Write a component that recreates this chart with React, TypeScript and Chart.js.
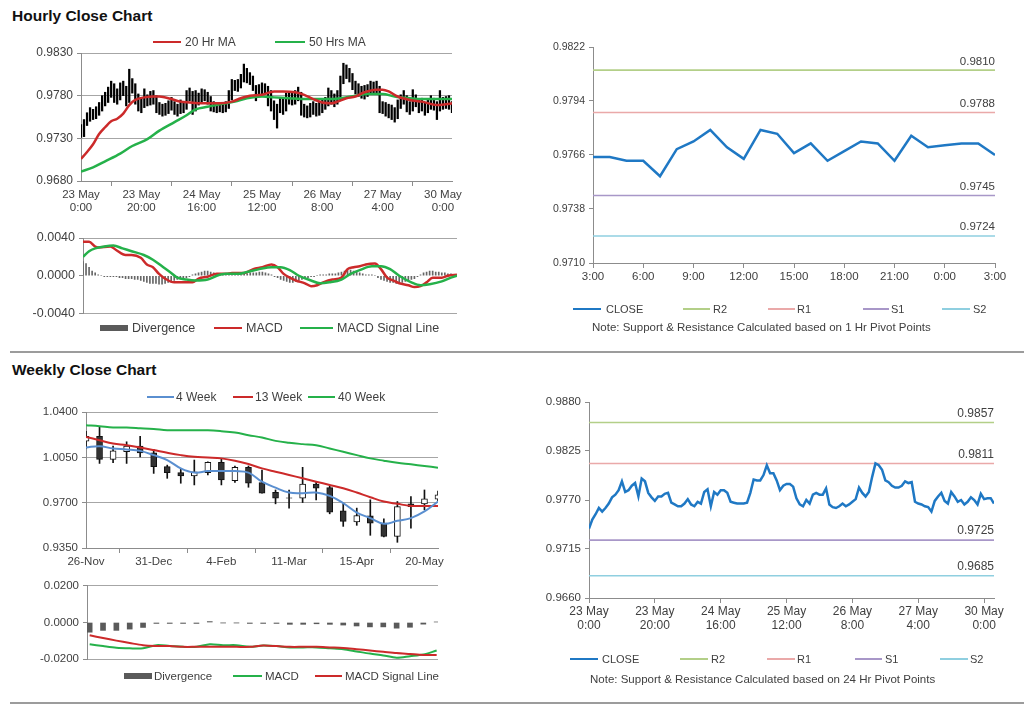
import React, { useEffect, useRef } from "react";
import { Chart, registerables } from "chart.js";

Chart.register(...registerables);

const FONT = "'Liberation Sans', Arial, Helvetica, sans-serif";
const TEXT = "#404040";
const AXIS = "#8c8c8c";
const GRID = "#a6a6a6";

// ---------------- Hourly data (trading hours, 23 May 0:00 -> 30 May) ----------------
const hourlyTickLabels = [
  ["23 May", "0:00"], ["23 May", "20:00"], ["24 May", "16:00"], ["25 May", "12:00"],
  ["26 May", "8:00"], ["27 May", "4:00"], ["30 May", "0:00"],
];
const HOURS_PER_TICK = 20;

const hourlyClose = [
  0.9738, 0.9748, 0.9754, 0.9761, 0.9757, 0.9761, 0.9766, 0.9773, 0.9776, 0.9781,
  0.9791, 0.9779, 0.9781, 0.9786, 0.9789, 0.9774, 0.9794, 0.9791, 0.9778, 0.9773,
  0.9769, 0.9774, 0.9774, 0.9777, 0.9778, 0.9767, 0.9765, 0.9763, 0.9763, 0.9766,
  0.9771, 0.9765, 0.9763, 0.9768, 0.9766, 0.9779, 0.9782, 0.9763, 0.9779, 0.9776,
  0.9781, 0.9781, 0.9778, 0.9768, 0.9767, 0.9766, 0.9766, 0.9766, 0.9767, 0.9778,
  0.9793, 0.9792, 0.9792, 0.9798, 0.9809, 0.9800, 0.9800, 0.9792, 0.9781, 0.9786,
  0.9788, 0.9788, 0.9785, 0.9772, 0.9765, 0.9763, 0.9770, 0.9766, 0.9776, 0.9778,
  0.9776, 0.9776, 0.9783, 0.9765, 0.9762, 0.9761, 0.9763, 0.9766, 0.9763, 0.9765,
  0.9768, 0.9771, 0.9784, 0.9778, 0.9774, 0.9779, 0.9796, 0.9811, 0.9809, 0.9804,
  0.9792, 0.9790, 0.9786, 0.9784, 0.9784, 0.9786, 0.9791, 0.9789, 0.9790, 0.9768,
  0.9766, 0.9765, 0.9763, 0.9762, 0.9757, 0.9769, 0.9774, 0.9778, 0.9769, 0.9766,
  0.9779, 0.9774, 0.9768, 0.9770, 0.9765, 0.9768, 0.9773, 0.9770, 0.9765, 0.9777,
  0.9771, 0.9772, 0.9772, 0.9766,
];
const hourlyHigh = [
  0.9746, 0.9752, 0.9760, 0.9766, 0.9764, 0.9767, 0.9772, 0.9780, 0.9784, 0.9790,
  0.9797, 0.9794, 0.9788, 0.9795, 0.9797, 0.9791, 0.9811, 0.9800, 0.9794, 0.9782,
  0.9778, 0.9788, 0.9781, 0.9785, 0.9786, 0.9780, 0.9772, 0.9770, 0.9771, 0.9774,
  0.9778, 0.9773, 0.9770, 0.9775, 0.9773, 0.9786, 0.9789, 0.9785, 0.9786, 0.9783,
  0.9788, 0.9787, 0.9784, 0.9779, 0.9773, 0.9772, 0.9771, 0.9772, 0.9773, 0.9786,
  0.9799, 0.9798, 0.9799, 0.9805, 0.9817, 0.9812, 0.9807, 0.9803, 0.9792, 0.9793,
  0.9795, 0.9794, 0.9791, 0.9786, 0.9774, 0.9770, 0.9778, 0.9776, 0.9783, 0.9785,
  0.9783, 0.9786, 0.9790, 0.9784, 0.9770, 0.9768, 0.9771, 0.9773, 0.9771, 0.9773,
  0.9775, 0.9778, 0.9789, 0.9786, 0.9782, 0.9786, 0.9803, 0.9818, 0.9816, 0.9812,
  0.9806, 0.9797, 0.9794, 0.9791, 0.9792, 0.9793, 0.9797, 0.9796, 0.9797, 0.9791,
  0.9773, 0.9772, 0.9770, 0.9769, 0.9766, 0.9775, 0.9781, 0.9786, 0.9780, 0.9773,
  0.9787, 0.9781, 0.9776, 0.9777, 0.9772, 0.9775, 0.9780, 0.9777, 0.9773, 0.9786,
  0.9778, 0.9779, 0.9780, 0.9773,
];
const hourlyLow = [
  0.9731, 0.9732, 0.9745, 0.9750, 0.9752, 0.9753, 0.9757, 0.9762, 0.9768, 0.9772,
  0.9778, 0.9772, 0.9770, 0.9775, 0.9780, 0.9768, 0.9772, 0.9783, 0.9770, 0.9762,
  0.9760, 0.9766, 0.9768, 0.9769, 0.9770, 0.9760, 0.9758, 0.9756, 0.9757, 0.9759,
  0.9763, 0.9758, 0.9756, 0.9759, 0.9760, 0.9764, 0.9774, 0.9758, 0.9762, 0.9769,
  0.9772, 0.9774, 0.9770, 0.9762, 0.9761, 0.9760, 0.9761, 0.9760, 0.9761, 0.9765,
  0.9775, 0.9786, 0.9785, 0.9789, 0.9796, 0.9795, 0.9793, 0.9786, 0.9774, 0.9779,
  0.9781, 0.9782, 0.9768, 0.9762, 0.9752, 0.9742, 0.9760, 0.9758, 0.9762, 0.9770,
  0.9769, 0.9770, 0.9774, 0.9757, 0.9755, 0.9754, 0.9755, 0.9758, 0.9756, 0.9757,
  0.9760, 0.9764, 0.9768, 0.9770, 0.9767, 0.9770, 0.9775, 0.9794, 0.9800, 0.9796,
  0.9787, 0.9782, 0.9779, 0.9777, 0.9776, 0.9779, 0.9782, 0.9783, 0.9782, 0.9760,
  0.9759, 0.9756, 0.9754, 0.9752, 0.9749, 0.9753, 0.9765, 0.9770, 0.9761, 0.9758,
  0.9762, 0.9767, 0.9760, 0.9762, 0.9757, 0.9760, 0.9764, 0.9763, 0.9752, 0.9762,
  0.9764, 0.9765, 0.9764, 0.9760,
];
const ma20Hours = [0, 2, 4, 6, 8, 10, 12, 14, 16, 18, 21, 24, 26, 30, 33, 36, 40, 43, 46, 50, 53, 56, 60, 64, 67, 71, 74, 77, 80, 83, 85, 88, 91, 94, 98, 100, 102, 105, 109, 113, 118, 121, 123];
const ma20Values = [
  0.9706, 0.9714, 0.9723, 0.9735, 0.9743, 0.9750, 0.9753, 0.9759, 0.9769, 0.9775,
  0.9778, 0.9779, 0.9779, 0.9776, 0.9773, 0.9772, 0.9771, 0.9771, 0.9771, 0.9773,
  0.9777, 0.9780, 0.9781, 0.9785, 0.9785, 0.9784, 0.9781, 0.9776, 0.9772, 0.9771,
  0.9773, 0.9777, 0.9779, 0.9784, 0.9787, 0.9787, 0.9785, 0.9779, 0.9775, 0.9773,
  0.9769, 0.9770, 0.9771,
];
const ma50Hours = [0, 4, 8, 13, 17, 22, 26, 31, 35, 38, 42, 46, 51, 55, 60, 64, 69, 73, 77, 82, 86, 91, 95, 100, 104, 109, 113, 118, 123];
const ma50Values = [
  0.9691, 0.9696, 0.9703, 0.9712, 0.9721, 0.9729, 0.9739, 0.9749, 0.9757, 0.9764,
  0.9767, 0.9770, 0.9773, 0.9777, 0.9779, 0.9778, 0.9777, 0.9776, 0.9776, 0.9776,
  0.9777, 0.9780, 0.9782, 0.9782, 0.9779, 0.9777, 0.9776, 0.9776, 0.9776,
];
const hourlyPriceTicks = [0.968, 0.973, 0.978, 0.983];

const macdHours = [0, 2, 4, 5, 9, 11, 14, 16, 19, 21, 23, 25, 27, 30, 32, 34, 36, 38, 41, 44, 47, 49, 53, 56, 59, 62, 64, 66, 68, 70, 73, 75, 77, 79, 82, 85, 87, 89, 91, 93, 96, 98, 100, 102, 104, 107, 109, 111, 113, 115, 118, 120, 123];
const macdValues = [
  0.0036, 0.0036, 0.0031, 0.0030, 0.0031, 0.0027, 0.0022, 0.0022, 0.0019, 0.0012,
  0.0009, 0.0002, -0.0003, -0.0007, -0.0007, -0.0007, -0.0007, -0.0003, -0.0001, 0.0002,
  0.0002, 0.0003, 0.0003, 0.0007, 0.0009, 0.0012, 0.0009, 0.0002, -0.0002, -0.0005,
  -0.0008, -0.0011, -0.0010, -0.0007, -0.0004, -0.0002, 0.0007, 0.0009, 0.0010, 0.0012,
  0.0013, 0.0007, -0.0002, -0.0005, -0.0008, -0.0010, -0.0012, -0.0011, -0.0007, -0.0002,
  -0.0002, 0.0000, 0.0001,
];
const signalHours = [0, 2, 4, 7, 10, 13, 16, 20, 23, 26, 29, 31, 34, 37, 41, 44, 47, 51, 54, 58, 62, 65, 68, 71, 75, 78, 81, 85, 88, 91, 95, 98, 101, 104, 108, 111, 114, 118, 121, 123];
const signalValues = [
  0.0020, 0.0026, 0.0029, 0.0031, 0.0032, 0.0029, 0.0026, 0.0022, 0.0017, 0.0010,
  0.0003, -0.0002, -0.0004, -0.0005, -0.0004, 0.0000, 0.0002, 0.0002, 0.0004, 0.0007,
  0.0009, 0.0009, 0.0006, 0.0000, -0.0005, -0.0008, -0.0007, -0.0004, 0.0002, 0.0006,
  0.0010, 0.0010, 0.0007, 0.0000, -0.0007, -0.0010, -0.0009, -0.0006, -0.0002, 0.0000,
];
const hourlyDivergence = [
  0.0015, 0.0013, 0.0009, 0.0005, 0.0003, 0.0001, 0.0000, -0.0001, -0.0001, -0.0001,
  -0.0001, -0.0001, -0.0002, -0.0002, -0.0003, -0.0003, -0.0003, -0.0004, -0.0004, -0.0005,
  -0.0006, -0.0007, -0.0008, -0.0008, -0.0008, -0.0009, -0.0009, -0.0008, -0.0007, -0.0006,
  -0.0005, -0.0004, -0.0003, -0.0003, -0.0002, -0.0001, 0.0001, 0.0002, 0.0003, 0.0004,
  0.0005, 0.0005, 0.0004, 0.0003, 0.0002, 0.0001, 0.0001, 0.0001, 0.0001, 0.0001,
  0.0001, 0.0001, 0.0001, 0.0002, 0.0002, 0.0003, 0.0003, 0.0003, 0.0004, 0.0004,
  0.0003, 0.0002, 0.0001, -0.0001, -0.0002, -0.0004, -0.0005, -0.0006, -0.0007, -0.0007,
  -0.0006, -0.0005, -0.0004, -0.0003, -0.0002, -0.0001, -0.0001, 0.0000, 0.0001, 0.0001,
  0.0001, 0.0002, 0.0002, 0.0002, 0.0003, 0.0004, 0.0005, 0.0006, 0.0006, 0.0005,
  0.0004, 0.0003, 0.0002, 0.0001, 0.0001, 0.0001, 0.0000, -0.0002, -0.0004, -0.0005,
  -0.0006, -0.0007, -0.0007, -0.0008, -0.0008, -0.0007, -0.0006, -0.0005, -0.0004, -0.0003,
  -0.0001, 0.0001, 0.0003, 0.0004, 0.0005, 0.0005, 0.0004, 0.0004, 0.0003, 0.0003,
  0.0002, 0.0002, 0.0001, 0.0001,
];
const hourlyMacdTicks = [-0.004, 0, 0.004];

// ---------------- 1 Hr pivot chart ----------------
const pivot1TickLabels = ["3:00", "6:00", "9:00", "12:00", "15:00", "18:00", "21:00", "0:00", "3:00"];
const HOURS_PER_PIVOT_TICK = 3;
const pivot1Close = [
  0.9765, 0.9765, 0.9763, 0.9763, 0.9755, 0.9769, 0.9773, 0.9779, 0.9770, 0.9764,
  0.9779, 0.9777, 0.9767, 0.9772, 0.9763, 0.9768, 0.9773, 0.9772, 0.9763, 0.9776,
  0.9770, 0.9771, 0.9772, 0.9772, 0.9766,
];
const pivot1Levels = [0.9810, 0.9788, 0.9745, 0.9724]; // R2, R1, S1, S2
const pivot1Ticks = [0.9710, 0.9738, 0.9766, 0.9794, 0.9822];

// ---------------- 24 Hr pivot chart ----------------
const pivot24Levels = [0.9857, 0.9811, 0.9725, 0.9685]; // R2, R1, S1, S2
const pivot24Ticks = [0.9660, 0.9715, 0.9770, 0.9825, 0.9880];

// ---------------- Weekly data ----------------
const weeklyTickLabels = ["26-Nov", "31-Dec", "4-Feb", "11-Mar", "15-Apr", "20-May"];
const WEEKS_PER_TICK = 5;
const weeklyOpen = [1.0175, 1.0213, 1.0034, 1.0093, 1.0136, 1.0085, 0.9978, 0.9932, 0.9906, 0.9932, 1.0011, 0.9870, 0.9973, 0.9855, 0.9780, 0.9737, 0.9734, 0.9844, 0.9816, 0.9637, 0.9552, 0.9599, 0.9542, 0.9440, 0.9691, 0.9691, 0.9727];
const weeklyClose = [1.0213, 1.0034, 1.0100, 1.0136, 1.0085, 0.9978, 0.9932, 0.9906, 0.9939, 1.0011, 0.9875, 0.9973, 0.9850, 0.9773, 0.9734, 0.9734, 0.9844, 0.9811, 0.9627, 0.9555, 0.9601, 0.9542, 0.9440, 0.9670, 0.9670, 0.9729, 0.9760];
const weeklyHigh = [1.0250, 1.0285, 1.0136, 1.0170, 1.0213, 1.0111, 0.9990, 0.9965, 1.0029, 1.0016, 1.0042, 0.9983, 0.9983, 0.9952, 0.9798, 0.9798, 0.9973, 0.9862, 0.9829, 0.9696, 0.9658, 0.9722, 0.9576, 0.9709, 0.9747, 0.9798, 0.9790];
const weeklyLow = [1.0120, 1.0003, 1.0008, 1.0003, 1.0054, 0.9926, 0.9888, 0.9850, 0.9837, 0.9914, 0.9837, 0.9857, 0.9819, 0.9773, 0.9691, 0.9658, 0.9701, 0.9722, 0.9614, 0.9517, 0.9525, 0.9448, 0.9435, 0.9394, 0.9504, 0.9645, 0.9715];
const week4MA = [1.0126, 1.0136, 1.0118, 1.0111, 1.0100, 1.0067, 1.0029, 0.9965, 0.9932, 0.9944, 0.9944, 0.9944, 0.9932, 0.9862, 0.9816, 0.9778, 0.9773, 0.9778, 0.9752, 0.9696, 0.9624, 0.9581, 0.9537, 0.9560, 0.9581, 0.9632, 0.9709];
const week13MA = [1.0208, 1.0182, 1.0157, 1.0144, 1.0126, 1.0106, 1.0085, 1.0067, 1.0054, 1.0049, 1.0042, 1.0024, 0.9998, 0.9965, 0.9939, 0.9914, 0.9888, 0.9862, 0.9837, 0.9811, 0.9778, 0.9742, 0.9709, 0.9691, 0.9675, 0.9675, 0.9675];
const week40MA = [1.0298, 1.0290, 1.0280, 1.0280, 1.0275, 1.0269, 1.0259, 1.0259, 1.0259, 1.0259, 1.0252, 1.0241, 1.0221, 1.0203, 1.0177, 1.0162, 1.0152, 1.0144, 1.0118, 1.0093, 1.0067, 1.0042, 1.0024, 1.0008, 0.9996, 0.9983, 0.9970];
const weeklyPriceTicks = [0.935, 0.970, 1.005, 1.040];

const weeklyMacd = [-0.0119, -0.0129, -0.0138, -0.0141, -0.0141, -0.0124, -0.0128, -0.0133, -0.0133, -0.0119, -0.0124, -0.0124, -0.0133, -0.0126, -0.0129, -0.0136, -0.0136, -0.0136, -0.0141, -0.0146, -0.0158, -0.0170, -0.0180, -0.0192, -0.0184, -0.0175, -0.0153];
const weeklySignal = [-0.0070, -0.0085, -0.0099, -0.0112, -0.0124, -0.0128, -0.0129, -0.0133, -0.0133, -0.0133, -0.0133, -0.0133, -0.0133, -0.0126, -0.0129, -0.0133, -0.0133, -0.0133, -0.0136, -0.0139, -0.0146, -0.0153, -0.0160, -0.0167, -0.0172, -0.0177, -0.0177];
const weeklyDivergence = [-0.0053, -0.0043, -0.0043, -0.0036, -0.0027, -0.0005, -0.0005, -0.0005, -0.0005, 0.0005, -0.0002, -0.0002, -0.0005, -0.0005, -0.0005, -0.0010, -0.0010, -0.0007, -0.0010, -0.0014, -0.0019, -0.0024, -0.0024, -0.0031, -0.0026, -0.0009, 0.0003];
const weeklyMacdTicks = [-0.02, 0, 0.02];

// ---------------- colours ----------------
const RED = "#cc2a2a";
const GREEN = "#25b14a";
const BLUE = "#1f78c4";
const STEEL = "#5a8fd0";
const PIV_COLORS = ["#b3cf88", "#eaa9a9", "#a897c8", "#8fcfe0"];
const DIV_COLOR = "#5a5a5a";

// ---------------- helpers ----------------
type Box = { x: number; y: number; w: number; h: number };

function yScale(tickValues: number[], width: number, size: number, onArea: boolean, hideZero = false) {
  return {
    type: "linear",
    position: "left",
    min: tickValues[0],
    max: tickValues[tickValues.length - 1],
    afterBuildTicks: (s: any) => {
      s.ticks = tickValues.map((v) => ({ value: v }));
    },
    afterFit: (s: any) => {
      s.width = width;
    },
    ticks: {
      callback: (v: any) => Number(v).toFixed(4),
      font: { family: FONT, size },
      color: TEXT,
      padding: 4,
    },
    grid: {
      drawOnChartArea: onArea,
      color: (c: any) => (hideZero && c.tick && Math.abs(c.tick.value) < 1e-9 ? "rgba(0,0,0,0)" : GRID),
      tickColor: AXIS,
      tickLength: 4,
      lineWidth: 1,
    },
    border: { display: true, color: AXIS, width: 1 },
  };
}

function xScale(min: number, max: number, tickValues: number[], labels: any[], height: number, size: number) {
  return {
    type: "linear",
    position: "bottom",
    min,
    max,
    offset: false,
    afterBuildTicks: (s: any) => {
      s.ticks = tickValues.map((v) => ({ value: v }));
    },
    afterFit: (s: any) => {
      s.height = height;
    },
    ticks: {
      autoSkip: false,
      maxRotation: 0,
      minRotation: 0,
      callback: (_v: any, i: number) => labels[i],
      font: { family: FONT, size, lineHeight: 1.15 },
      color: TEXT,
      padding: 2,
    },
    grid: { drawOnChartArea: false, color: AXIS, tickColor: AXIS, tickLength: 5 },
    border: { display: true, color: AXIS },
  };
}

function hiddenX(min: number, max: number) {
  return { type: "linear", min, max, display: false, offset: false };
}

function base(pad: any, scales: any) {
  return {
    responsive: false,
    animation: false,
    devicePixelRatio: 1,
    events: [],
    layout: { padding: { left: 0, top: 0, right: 0, bottom: 0, ...pad } },
    plugins: { legend: { display: false }, tooltip: { enabled: false } },
    scales,
  };
}

function lineDs(data: any[], color: string, width: number, extra: any = {}) {
  return {
    type: "line",
    data,
    borderColor: color,
    backgroundColor: color,
    borderWidth: width,
    pointRadius: 0,
    fill: false,
    ...extra,
  };
}

function pivotLabelPlugin(levels: number[], size: number) {
  return {
    id: "pivotLabels",
    afterDatasetsDraw(chart: any) {
      const { ctx, chartArea, scales } = chart;
      ctx.save();
      ctx.font = `${size}px ${FONT}`;
      ctx.fillStyle = TEXT;
      ctx.textAlign = "right";
      ctx.textBaseline = "bottom";
      levels.forEach((l) => ctx.fillText(l.toFixed(4), chartArea.right, scales.y.getPixelForValue(l) - 3));
      ctx.restore();
    },
  };
}

function ChartCanvas({ box, make }: { box: Box; make: () => any }) {
  const ref = useRef<HTMLCanvasElement | null>(null);
  useEffect(() => {
    if (!ref.current) return;
    const chart = new Chart(ref.current, make());
    return () => chart.destroy();
  }, []);
  return (
    <canvas
      ref={ref}
      width={box.w}
      height={box.h}
      style={{ position: "absolute", left: box.x, top: box.y, width: box.w, height: box.h }}
    />
  );
}

// ---------------- chart configs ----------------
const hourlyTickValues = hourlyTickLabels.map((_, i) => i * HOURS_PER_TICK);
const lastHour = hourlyClose.length - 1;

function makeHourlyPrice() {
  return {
    type: "line",
    data: {
      datasets: [
        lineDs(ma20Hours.map((h, i) => ({ x: h, y: ma20Values[i] })), RED, 2.5, { cubicInterpolationMode: "monotone", order: 0 }),
        lineDs(ma50Hours.map((h, i) => ({ x: h, y: ma50Values[i] })), GREEN, 2.5, { cubicInterpolationMode: "monotone", order: 1 }),
        {
          type: "bar",
          data: hourlyHigh.map((h, i) => ({ x: i, y: [hourlyLow[i], h] })),
          backgroundColor: "#000",
          barThickness: 1.6,
          grouped: false,
          order: 2,
        },
      ],
    },
    options: base(
      { top: 23, right: 18 },
      {
        x: xScale(0, lastHour, hourlyTickValues, hourlyTickLabels, 34, 11.5),
        y: yScale(hourlyPriceTicks, 81, 12, true),
      }
    ),
  };
}

function makeHourlyMacd() {
  return {
    type: "line",
    data: {
      datasets: [
        lineDs(macdHours.map((h, i) => ({ x: h, y: macdValues[i] })), RED, 2.5, { cubicInterpolationMode: "monotone", order: 1 }),
        lineDs(signalHours.map((h, i) => ({ x: h, y: signalValues[i] })), GREEN, 2.5, { cubicInterpolationMode: "monotone", order: 0 }),
        {
          type: "bar",
          data: hourlyDivergence.map((v, i) => ({ x: i, y: v })),
          backgroundColor: "#666",
          barThickness: 1,
          grouped: false,
          order: 2,
        },
      ],
    },
    options: base(
      { top: 13, right: 13, bottom: 8 },
      {
        x: hiddenX(0, lastHour),
        y: yScale(hourlyMacdTicks, 83, 12.5, true, true),
      }
    ),
  };
}

function pivotDatasets(close: number[], levels: number[]) {
  const last = close.length - 1;
  return [
    lineDs(close.map((v, i) => ({ x: i, y: v })), BLUE, 2.5, { order: 0 }),
    ...levels.map((l, k) =>
      lineDs([{ x: 0, y: l }, { x: last, y: l }], PIV_COLORS[k], 1.6, { order: 1 })
    ),
  ];
}

function makePivot1() {
  const last = pivot1Close.length - 1;
  return {
    type: "line",
    data: { datasets: pivotDatasets(pivot1Close, pivot1Levels) },
    options: base(
      { top: 17, right: 25 },
      {
        x: xScale(0, last, pivot1TickLabels.map((_, i) => i * HOURS_PER_PIVOT_TICK), pivot1TickLabels, 37, 11.5),
        y: yScale(pivot1Ticks, 93, 10.5, false),
      }
    ),
    plugins: [pivotLabelPlugin(pivot1Levels, 11.5)],
  };
}

function makePivot24() {
  return {
    type: "line",
    data: { datasets: pivotDatasets(hourlyClose, pivot24Levels) },
    options: base(
      { top: 12, right: 26 },
      {
        x: xScale(0, lastHour, hourlyTickValues, hourlyTickLabels, 52, 12),
        y: yScale(pivot24Ticks, 89, 11.5, false),
      }
    ),
    plugins: [pivotLabelPlugin(pivot24Levels, 12)],
  };
}

const lastWeek = weeklyClose.length - 1;

function makeWeeklyPrice() {
  return {
    type: "line",
    data: {
      datasets: [
        lineDs(week4MA.map((v, i) => ({ x: i, y: v })), STEEL, 2, { tension: 0.4, order: 0 }),
        lineDs(week13MA.map((v, i) => ({ x: i, y: v })), RED, 2, { tension: 0.4, order: 0 }),
        lineDs(week40MA.map((v, i) => ({ x: i, y: v })), GREEN, 2, { tension: 0.4, order: 0 }),
        {
          type: "bar",
          data: weeklyOpen.map((o, i) => ({ x: i, y: [o, weeklyClose[i]] })),
          backgroundColor: weeklyOpen.map((o, i) => (weeklyClose[i] >= o ? "#ffffff" : "#333333")),
          borderColor: "#111",
          borderWidth: 1,
          borderSkipped: false,
          barThickness: 6,
          grouped: false,
          order: 1,
        },
        {
          type: "bar",
          data: weeklyHigh.map((h, i) => ({ x: i, y: [weeklyLow[i], h] })),
          backgroundColor: "#111",
          barThickness: 1,
          grouped: false,
          order: 2,
        },
      ],
    },
    options: base(
      { top: 12, right: 32 },
      {
        x: xScale(0, lastWeek, weeklyTickLabels.map((_, i) => i * WEEKS_PER_TICK), weeklyTickLabels, 32, 11.5),
        y: yScale(weeklyPriceTicks, 86, 11.5, true),
      }
    ),
  };
}

function makeWeeklyMacd() {
  return {
    type: "line",
    data: {
      datasets: [
        lineDs(weeklySignal.map((v, i) => ({ x: i, y: v })), RED, 2, { tension: 0.3, order: 0 }),
        lineDs(weeklyMacd.map((v, i) => ({ x: i, y: v })), GREEN, 2, { tension: 0.3, order: 1 }),
        {
          type: "bar",
          data: weeklyDivergence.map((v, i) => ({ x: i, y: v })),
          backgroundColor: DIV_COLOR,
          barThickness: 5,
          grouped: false,
          order: 2,
        },
      ],
    },
    options: base(
      { top: 10, right: 32, bottom: 7 },
      {
        x: hiddenX(-0.2, lastWeek + 0.1),
        y: yScale(weeklyMacdTicks, 87, 11.5, true, true),
      }
    ),
  };
}

// ---------------- legends ----------------
type LegendItem = { label: string; color: string; kind: "line" | "box"; x: number; w: number; tx: number };

function Legend({ y, items, size }: { y: number; items: LegendItem[]; size: number }) {
  return (
    <>
      {items.map((it, i) => (
        <React.Fragment key={i}>
          <div
            style={{
              position: "absolute",
              left: it.x,
              top: it.kind === "box" ? y - 3 : y - 1,
              width: it.w,
              height: it.kind === "box" ? 6 : 2,
              background: it.color,
            }}
          />
          <div
            style={{
              position: "absolute",
              left: it.tx,
              top: y - 8,
              height: 16,
              lineHeight: "16px",
              fontSize: size,
              fontFamily: FONT,
              color: TEXT,
              whiteSpace: "nowrap",
            }}
          >
            {it.label}
          </div>
        </React.Fragment>
      ))}
    </>
  );
}

const textStyle = (x: number, y: number, size: number, bold = false): React.CSSProperties => ({
  position: "absolute",
  left: x,
  top: y - 9,
  height: 18,
  lineHeight: "18px",
  fontSize: size,
  fontWeight: bold ? "bold" : "normal",
  fontFamily: FONT,
  color: bold ? "#111" : TEXT,
  whiteSpace: "nowrap",
});

export default function App() {
  return (
    <div style={{ position: "absolute", left: 0, top: 0, width: 1024, height: 706, background: "#fff", overflow: "hidden" }}>
      <div style={textStyle(12, 16, 15.5, true)}>Hourly Close Chart</div>
      <div style={textStyle(12, 370, 15.5, true)}>Weekly Close Chart</div>
      <div style={{ position: "absolute", left: 10, top: 351, width: 1014, height: 2, background: "#9c9c9c" }} />
      <div style={{ position: "absolute", left: 10, top: 702, width: 1014, height: 2, background: "#9c9c9c" }} />

      <ChartCanvas box={{ x: 0, y: 30, w: 470, h: 185 }} make={makeHourlyPrice} />
      <Legend
        y={42}
        size={12}
        items={[
          { label: "20 Hr MA", color: RED, kind: "line", x: 153, w: 28, tx: 185 },
          { label: "50 Hrs MA", color: GREEN, kind: "line", x: 275, w: 30, tx: 309 },
        ]}
      />

      <ChartCanvas box={{ x: 0, y: 225, w: 470, h: 100 }} make={makeHourlyMacd} />
      <Legend
        y={328}
        size={12.5}
        items={[
          { label: "Divergence", color: DIV_COLOR, kind: "box", x: 100, w: 28, tx: 132 },
          { label: "MACD", color: RED, kind: "line", x: 214, w: 28, tx: 246 },
          { label: "MACD Signal Line", color: GREEN, kind: "line", x: 300, w: 33, tx: 337 },
        ]}
      />

      <ChartCanvas box={{ x: 500, y: 30, w: 520, h: 270 }} make={makePivot1} />
      <Legend
        y={309}
        size={11}
        items={[
          { label: "CLOSE", color: BLUE, kind: "line", x: 573, w: 28, tx: 606 },
          { label: "R2", color: PIV_COLORS[0], kind: "line", x: 683, w: 27, tx: 713 },
          { label: "R1", color: PIV_COLORS[1], kind: "line", x: 768, w: 27, tx: 797 },
          { label: "S1", color: PIV_COLORS[2], kind: "line", x: 863, w: 26, tx: 891 },
          { label: "S2", color: PIV_COLORS[3], kind: "line", x: 942, w: 28, tx: 973 },
        ]}
      />
      <div style={textStyle(592, 327, 11.5)}>Note: Support &amp; Resistance Calculated based on 1 Hr Pivot Points</div>

      <ChartCanvas box={{ x: 0, y: 400, w: 470, h: 180 }} make={makeWeeklyPrice} />
      <Legend
        y={397}
        size={12}
        items={[
          { label: "4 Week", color: STEEL, kind: "line", x: 147, w: 27, tx: 176 },
          { label: "13 Week", color: RED, kind: "line", x: 233, w: 20, tx: 255 },
          { label: "40 Week", color: GREEN, kind: "line", x: 308, w: 27, tx: 338 },
        ]}
      />

      <ChartCanvas box={{ x: 0, y: 575, w: 470, h: 95 }} make={makeWeeklyMacd} />
      <Legend
        y={676}
        size={11.5}
        items={[
          { label: "Divergence", color: DIV_COLOR, kind: "box", x: 124, w: 28, tx: 154 },
          { label: "MACD", color: GREEN, kind: "line", x: 233, w: 29, tx: 265 },
          { label: "MACD Signal Line", color: RED, kind: "line", x: 315, w: 27, tx: 345 },
        ]}
      />

      <ChartCanvas box={{ x: 500, y: 390, w: 520, h: 260 }} make={makePivot24} />
      <Legend
        y={659}
        size={11}
        items={[
          { label: "CLOSE", color: BLUE, kind: "line", x: 570, w: 28, tx: 602 },
          { label: "R2", color: PIV_COLORS[0], kind: "line", x: 680, w: 28, tx: 711 },
          { label: "R1", color: PIV_COLORS[1], kind: "line", x: 767, w: 28, tx: 797 },
          { label: "S1", color: PIV_COLORS[2], kind: "line", x: 855, w: 27, tx: 885 },
          { label: "S2", color: PIV_COLORS[3], kind: "line", x: 940, w: 28, tx: 970 },
        ]}
      />
      <div style={textStyle(590, 679, 11.5)}>Note: Support &amp; Resistance Calculated based on 24 Hr Pivot Points</div>
    </div>
  );
}
